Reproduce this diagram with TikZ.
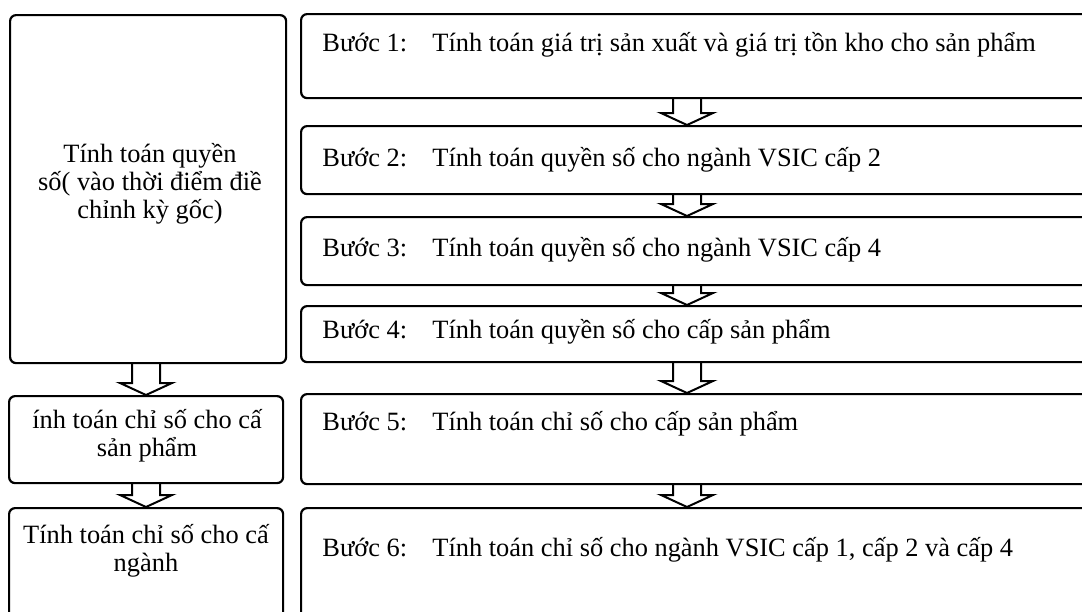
\documentclass[tikz,border=0pt]{standalone}
\usepackage{fontspec}
\setmainfont{Liberation Serif}
\usetikzlibrary{positioning, calc}

% hollow block arrow from (#1) down to (#2)
\newcommand{\dnarrow}[2]{%
  \draw[blk] ($(#1)+(-14,0)$) -- ($(#2)+(-14,-12)$) -- ($(#2)+(-26,-12)$)
    -- (#2) -- ($(#2)+(26,-12)$) -- ($(#2)+(14,-12)$) -- ($(#1)+(14,0)$);}

\begin{document}
\begin{tikzpicture}[
  x=0.5pt, y=-0.5pt,
  font=\fontsize{13.2}{14}\selectfont,
  box/.style={draw, rounded corners=3pt, line width=1.1pt,
              inner sep=0pt, anchor=north west},
  lbox/.style={box, minimum width=137pt},
  rbox/.style={box, minimum width=400pt},
  num/.style={anchor=base west, inner sep=0pt},
  ltext/.style={align=center, inner sep=0pt},
  blk/.style={line width=1pt, line join=miter},
]
\useasboundingbox (0,0) rectangle (1082,611);
\clip (0,0) rectangle (1082,611);

%% ---- Left column ----
\node[lbox, minimum width=138pt, minimum height=174pt] (w) at (9,14) {};
\node[lbox, minimum height=43.5pt] (pi) at (8,395) {};
\node[lbox, minimum height=70pt]   (ii) at (8,507) {};

\node[ltext] (wt)  at (150,184) {Tính toán quyền\\số( vào thời điểm điề\\chỉnh kỳ gốc)};
\node[ltext] (pit) at (147,436) {ính toán chỉ số cho cấ\\sản phẩm};
\node[ltext] (iit) at (146,551) {Tính toán chỉ số cho cấ\\ngành};

%% ---- Right column (steps) ----
\node[rbox, minimum height=42pt] (s1) at (300,13)  {};
\node[rbox, minimum height=34pt] (s2) at (300,125) {};
\node[rbox, minimum height=34pt] (s3) at (300,216) {};
\node[rbox, minimum height=28pt] (s4) at (300,305) {};
\node[rbox, minimum height=45pt] (s5) at (300,393) {};
\node[rbox, minimum height=70pt] (s6) at (300,507) {};

\node[num] (n1) at (322,51)  {Bước 1:};
\node[num] (n2) at (322,166) {Bước 2:};
\node[num] (n3) at (322,256) {Bước 3:};
\node[num] (n4) at (322,338) {Bước 4:};
\node[num] (n5) at (322,430) {Bước 5:};
\node[num] (n6) at (322,556) {Bước 6:};

\node[num] (d1) at (432,51)  {Tính toán giá trị sản xuất và giá trị tồn kho cho sản phẩm};
\node[num] (d2) at (432,166) {Tính toán quyền số cho ngành VSIC cấp 2};
\node[num] (d3) at (432,256) {Tính toán quyền số cho ngành VSIC cấp 4};
\node[num] (d4) at (432,338) {Tính toán quyền số cho cấp sản phẩm};
\node[num] (d5) at (432,430) {Tính toán chỉ số cho cấp sản phẩm};
\node[num] (d6) at (432,556) {Tính toán chỉ số cho ngành VSIC cấp 1, cấp 2 và cấp 4};

%% ---- Block arrows ----
\coordinate (la) at (146,0);
\coordinate (ra) at (687,0);
\dnarrow{w.south -| la}{pi.north -| la}
\dnarrow{pi.south -| la}{ii.north -| la}
\dnarrow{s1.south -| ra}{s2.north -| ra}
\dnarrow{s2.south -| ra}{s3.north -| ra}
\dnarrow{s3.south -| ra}{s4.north -| ra}
\dnarrow{s4.south -| ra}{s5.north -| ra}
\dnarrow{s5.south -| ra}{s6.north -| ra}

\end{tikzpicture}
\end{document}
